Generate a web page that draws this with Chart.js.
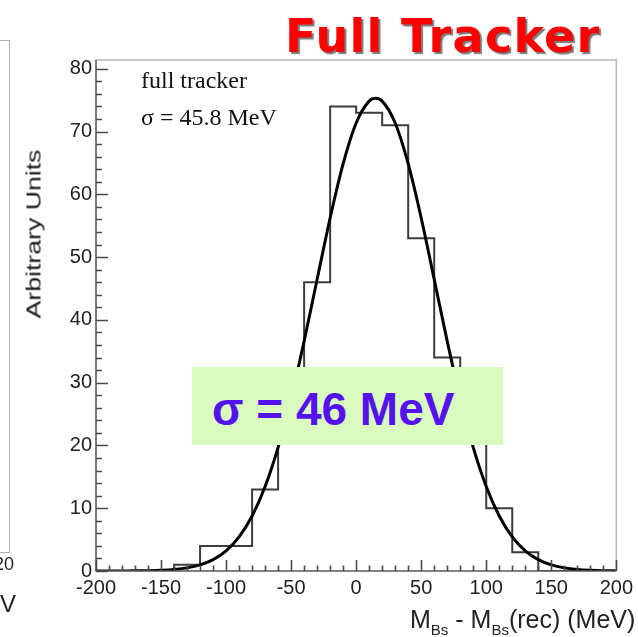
<!DOCTYPE html>
<html>
<head>
<meta charset="utf-8">
<script src="https://cdn.jsdelivr.net/npm/chart.js@4.4.1/dist/chart.umd.min.js"></script>
<style>
html,body{margin:0;padding:0;background:#fff;overflow:hidden}
#wrap{position:relative;width:638px;height:637px;overflow:hidden;background:#fff}
#c{position:absolute;left:0;top:0}
.ov{position:absolute;white-space:nowrap}
#bigTitle{left:285px;top:13px;font:bold 46px "DejaVu Sans",sans-serif;line-height:46px;color:#ff0000;text-shadow:2px 2px 1px #7a7a7a;letter-spacing:1.3px}
#stat1,#stat2{left:141px;font:24px "Liberation Serif",serif;line-height:24px;color:#111}
#stat1{top:68px}
#stat2{top:105px}
#greenBox{left:192px;top:367px;width:311px;height:78px;background:#d9fbbd}
#greenText{position:absolute;left:20px;top:19px;font:bold 46px "Liberation Sans",sans-serif;line-height:46px;color:#5512ee;white-space:nowrap}
#yTitle{left:33px;top:234px;font:21px "Liberation Sans",sans-serif;line-height:21px;color:#1a1a1a;transform:translate(-50%,-50%) rotate(-90deg) scaleX(1.27)}
#xTitle{left:410px;top:607px;font:25px "Liberation Sans",sans-serif;line-height:25px;color:#222}
#xTitle .sb{font-size:15px;position:relative;top:7px}
#leftFrame{left:-40px;top:40px;width:49px;height:511px;border:1px solid #b0b0b0;border-left:none}
#leftLab{right:624px;top:555px;font:18px "Liberation Sans",sans-serif;line-height:18px;color:#222}
#leftUnit{right:622px;top:592px;font:24px "Liberation Sans",sans-serif;line-height:24px;color:#222}
</style>
</head>
<body>
<div id="wrap">
  <canvas id="c" width="638" height="637"></canvas>
  <div class="ov" id="leftFrame"></div>
  <div class="ov" id="leftLab">120</div>
  <div class="ov" id="leftUnit">MeV</div>
  <div class="ov" id="bigTitle">Full Tracker</div>
  <div class="ov" id="stat1">full tracker</div>
  <div class="ov" id="stat2">σ = 45.8 MeV</div>
  <div class="ov" id="yTitle">Arbitrary Units</div>
  <div class="ov" id="xTitle">M<span class="sb">Bs</span> - M<span class="sb">Bs</span>(rec) (MeV)</div>
  <div class="ov" id="greenBox"><div id="greenText">σ = 46 MeV</div></div>
</div>
<script>
// ---- data ----
const binLowEdges = [-200,-180,-160,-140,-120,-100,-80,-60,-40,-20,0,20,40,60,80,100,120,140,160,180];
const binCounts   = [0,0,0,1,4,4,13,27,46,74,73,71,53,34,21,10,3,0,0,0];
const histUpperEdge = 200;

const fitX = [-200,-190,-180,-170,-160,-150,-140,-130,-120,-110,-100,-90,-80,-70,-60,-50,-40,-30,-20,-10,0,10,15,20,30,40,50,60,70,80,90,100,110,120,130,140,150,160,170,180,190,200];
const fitY = [0.00,0.00,0.01,0.02,0.05,0.11,0.24,0.50,0.98,1.82,3.22,5.44,8.76,13.46,19.70,27.51,36.61,46.47,56.23,64.88,71.37,74.85,75.3,74.85,71.37,64.88,56.23,46.47,36.61,27.51,19.70,13.46,8.76,5.44,3.22,1.82,0.98,0.50,0.24,0.11,0.05,0.02];

const xTickValues = [-200,-150,-100,-50,0,50,100,150,200];
const yTickValues = [0,10,20,30,40,50,60,70,80];
const xMinorStep = 10;
const yMinorStep = 2;
const xRange = [-200, 200];
const yRange = [0, 81.4];

// ---- build datasets ----
const histPoints = binLowEdges.map((e, i) => ({x: e, y: binCounts[i]}));
histPoints.push({x: histUpperEdge, y: 0});
const fitPoints = fitX.map((v, i) => ({x: v, y: fitY[i]}));

const rootAxes = {
  id: 'rootAxes',
  afterDraw(chart) {
    const {ctx, chartArea: a, scales: {x, y}} = chart;
    ctx.save();
    ctx.lineCap = 'butt';
    ctx.strokeStyle = '#b4b4b4';
    ctx.lineWidth = 1.5;
    ctx.beginPath();
    ctx.moveTo(a.left, a.top); ctx.lineTo(a.right, a.top); ctx.lineTo(a.right, a.bottom);
    ctx.stroke();
    ctx.strokeStyle = '#5a5a5a';
    ctx.lineWidth = 1.6;
    ctx.beginPath();
    ctx.moveTo(a.left, a.top); ctx.lineTo(a.left, a.bottom); ctx.lineTo(a.right, a.bottom);
    ctx.stroke();
    ctx.strokeStyle = '#4a4a4a';
    ctx.lineWidth = 1.6;
    ctx.beginPath();
    for (let v = xRange[0]; v <= xRange[1] + 1e-9; v += xMinorStep) {
      const px = Math.round(x.getPixelForValue(v)) + 0.5;
      const len = xTickValues.includes(v) ? 11 : 5.5;
      ctx.moveTo(px, a.bottom); ctx.lineTo(px, a.bottom - len);
    }
    for (let v = yRange[0]; v <= 80 + 1e-9; v += yMinorStep) {
      const py = Math.round(y.getPixelForValue(v)) + 0.5;
      const len = yTickValues.includes(v) ? 12 : 6;
      ctx.moveTo(a.left, py); ctx.lineTo(a.left + len, py);
    }
    ctx.stroke();
    ctx.restore();
  }
};

new Chart(document.getElementById('c'), {
  type: 'line',
  data: {
    datasets: [
      {
        label: 'fit',
        data: fitPoints,
        borderColor: '#000',
        borderWidth: 3,
        pointRadius: 0,
        fill: false,
        cubicInterpolationMode: 'monotone'
      },
      {
        label: 'histogram',
        data: histPoints,
        borderColor: '#3c3c3c',
        borderWidth: 2,
        pointRadius: 0,
        fill: false,
        stepped: 'before'
      }
    ]
  },
  options: {
    responsive: false,
    animation: false,
    devicePixelRatio: 1,
    layout: {padding: {top: 60, right: 18, left: 0, bottom: 0}},
    plugins: {legend: {display: false}, tooltip: {enabled: false}, title: {display: false}},
    scales: {
      x: {
        type: 'linear',
        min: xRange[0], max: xRange[1],
        grid: {display: false, drawTicks: false, drawOnChartArea: false},
        border: {display: false},
        ticks: {
          stepSize: 50,
          autoSkip: false,
          maxRotation: 0,
          padding: 5,
          color: '#222',
          font: {family: 'Liberation Sans', size: 20},
          callback: v => xTickValues.includes(v) ? String(v) : ''
        },
        afterFit: s => { s.height = 66; }
      },
      y: {
        type: 'linear',
        min: yRange[0], max: yRange[1],
        grid: {display: false, drawTicks: false, drawOnChartArea: false},
        border: {display: false},
        ticks: {
          stepSize: 10,
          includeBounds: false,
          padding: 4,
          color: '#222',
          font: {family: 'Liberation Sans', size: 20},
          callback: v => yTickValues.includes(v) ? String(v) : ''
        },
        afterFit: s => { s.width = 96; }
      }
    }
  },
  plugins: [rootAxes]
});
</script>
</body>
</html>
